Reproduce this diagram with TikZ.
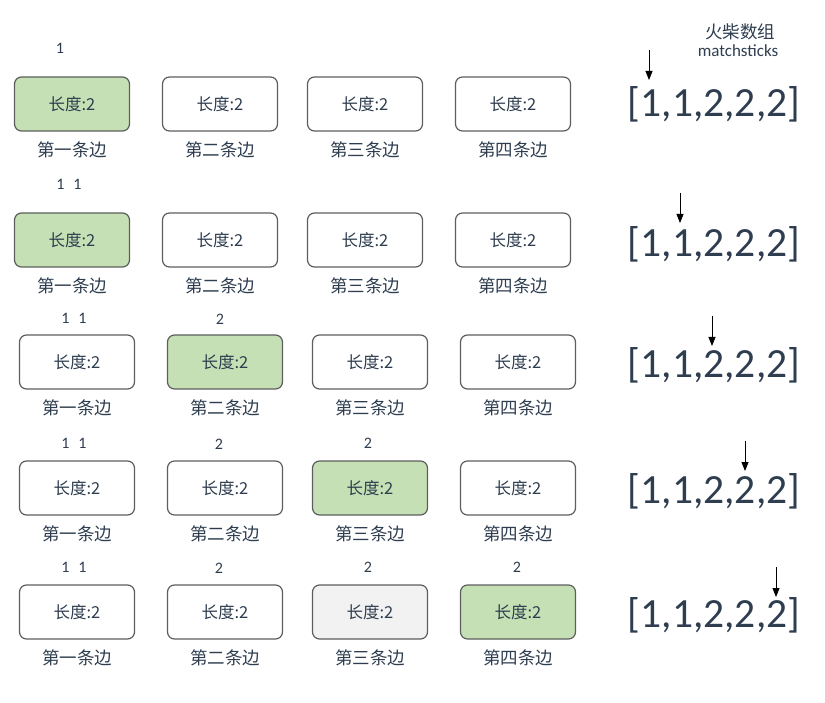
\documentclass[tikz,border=0pt]{standalone}
\usepackage{fontspec}
\setmainfont{Carlito}
\newfontfamily\cjkfont{Noto Sans CJK SC}
\usetikzlibrary{arrows.meta, positioning}
\definecolor{inkslate}{HTML}{2E3D4F}
\definecolor{edgegray}{HTML}{5E5E5E}
\definecolor{usedgreen}{HTML}{C5E0B4}
\definecolor{triedgray}{HTML}{F2F2F2}

\begin{document}
\begin{tikzpicture}[x=1pt, y=-1pt,
  sidebox/.style={rectangle, draw=edgegray, line width=1.2pt, rounded corners=7pt,
    minimum width=115pt, minimum height=54pt, text=inkslate,
    font=\cjkfont\fontsize{16.5}{20}\selectfont},
  sidename/.style={inner sep=1pt, text=inkslate, font=\cjkfont\fontsize{17.5}{21}\selectfont},
  count/.style={inner sep=1pt, text=inkslate, font=\fontsize{16}{18}\selectfont},
  sticks/.style={inner sep=0pt, text=inkslate, font=\fontsize{41.5}{48}\selectfont},
  pointer/.style={-{Triangle[length=9pt,width=7pt]}, line width=0.8pt},
]
  \useasboundingbox (0,0) rectangle (825,703);

  % the four sides, one row per step
  \foreach \r/\y/\dx/\hl in {1/104/0/1, 2/240/0/1, 3/362/5/2, 4/488/5/3, 5/612/5/4} {
    \foreach \c/\x/\name in {1/72/第一条边, 2/220/第二条边, 3/365/第三条边, 4/513/第四条边} {
      \ifnum\c=\hl \def\boxfill{usedgreen}\else \def\boxfill{white}\fi
      \ifnum\r\c=53 \def\boxfill{triedgray}\fi
      \node[sidebox, fill=\boxfill] (e\r\c) at (\x+\dx,\y) {长度:2};
      \node[sidename, below=9pt of e\r\c] (n\r\c) {\name};
    }
  }

  % matchsticks placed so far
  \node[count] (c11) at (60,48) {1};
  \node[count] (c21) at (69,184) {1\hspace{0.55em}1};
  \node[count] (c31) at (74,318) {1\hspace{0.55em}1};
  \node[count] (c32) at (220,319) {2};
  \node[count] (c41) at (74,443) {1\hspace{0.55em}1};
  \node[count] (c42) at (219,444) {2};
  \node[count] (c43) at (368,443) {2};
  \node[count] (c51) at (74,567) {1\hspace{0.55em}1};
  \node[count] (c52) at (219,568) {2};
  \node[count] (c53) at (368,567) {2};
  \node[count] (c54) at (517,567) {2};

  % the array and its pointer
  \node[sidename, font=\cjkfont\fontsize{17.5}{20}\selectfont] (title) at (740,32) {火柴数组};
  \node[count, font=\fontsize{17}{20}\selectfont] (titleen) at (738,51) {matchsticks};
  \foreach \r/\y/\px/\ya/\yb in {1/104/649/50/80, 2/244/680/193/223, 3/365/712/316/346,
      4/491/745/441/471, 5/615/776/567/597} {
    \node[sticks] (m\r) at (714,\y) {[1,1,2,2,2]};
    \coordinate (p\r) at (\px,\ya);
    \coordinate (q\r) at (\px,\yb);
    \draw[pointer] (p\r) -- (q\r);
  }
\end{tikzpicture}
\end{document}
